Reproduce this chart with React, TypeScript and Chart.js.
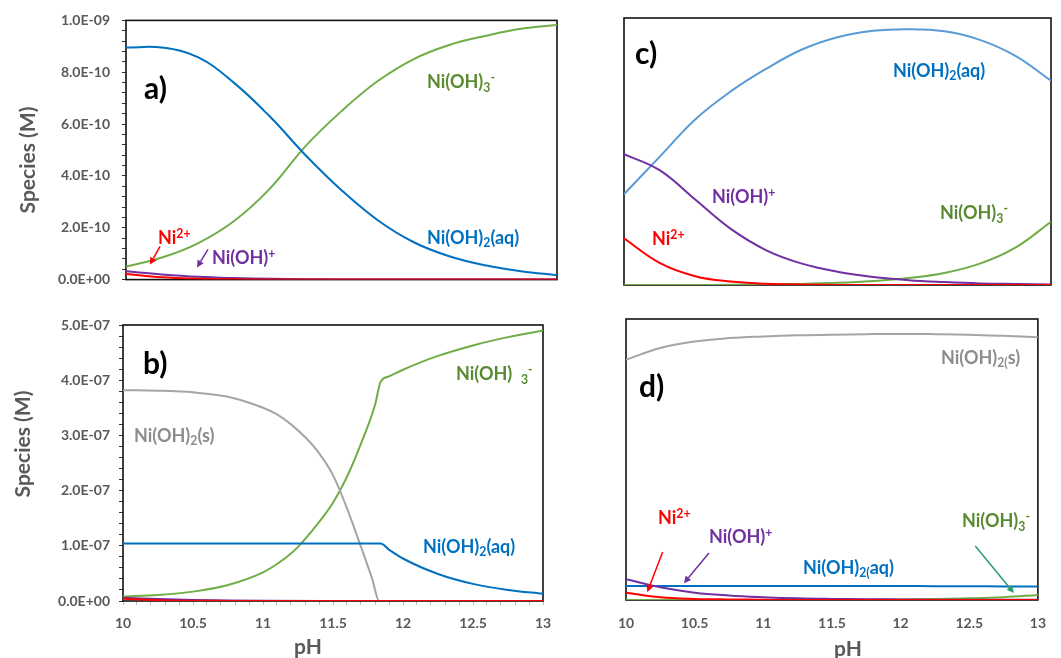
import React, { useEffect, useRef } from "react";
import { Chart, registerables } from "chart.js";

Chart.register(...registerables);

const FONT = "Lato, 'Open Sans', 'DejaVu Sans', sans-serif";
const AXIS_TEXT = "#595959";
const C_GREEN = "#70AD47";
const C_BLUE = "#0070C0";
const C_LIGHTBLUE = "#5B9BD5";
const C_GRAY = "#A5A5A5";
const C_RED = "#FF0000";
const C_PURPLE = "#7030A0";
const T_GREEN = "#588A30";
const T_GRAY = "#8C8C8C";
const T_ARROW_GREEN = "#2A9D6F";

// ---- tick labels ----
const PH_TICKS = [10, 10.5, 11, 11.5, 12, 12.5, 13];
const A_Y_TICKS = [0, 2e-10, 4e-10, 6e-10, 8e-10, 1e-9];
const B_Y_TICKS = [0, 1e-7, 2e-7, 3e-7, 4e-7, 5e-7];

// ---- panel a (M) ----
const A_PH = [10, 10.25, 10.5, 10.75, 11, 11.25, 11.5, 11.75, 12, 12.25, 12.5, 12.75, 13];
const A_OH3 = [0.5e-10, 0.85e-10, 1.4e-10, 2.25e-10, 3.5e-10, 5.15e-10, 6.5e-10, 7.65e-10, 8.5e-10, 9.05e-10, 9.4e-10, 9.68e-10, 9.82e-10];
const A_AQ = [8.95e-10, 8.95e-10, 8.58e-10, 7.6e-10, 6.3e-10, 4.8e-10, 3.45e-10, 2.3e-10, 1.45e-10, 0.9e-10, 0.55e-10, 0.32e-10, 0.17e-10];
const A_NI = [0.22e-10, 0.09e-10, 0.035e-10, 0.012e-10, 0.004e-10, 0.001e-10, 0, 0, 0, 0, 0, 0, 0];
const A_NIOH = [0.32e-10, 0.2e-10, 0.11e-10, 0.06e-10, 0.03e-10, 0.015e-10, 0.007e-10, 0.003e-10, 0.001e-10, 0, 0, 0, 0];

// ---- panel b (M) ----
const B_PH_OH3 = [10, 10.25, 10.5, 10.75, 11, 11.1, 11.2, 11.25, 11.3, 11.4, 11.5, 11.6, 11.7, 11.8, 11.84, 11.9, 12, 12.25, 12.5, 12.75, 13];
const B_OH3 = [0.08e-7, 0.11e-7, 0.17e-7, 0.29e-7, 0.52e-7, 0.67e-7, 0.86e-7, 0.98e-7, 1.12e-7, 1.43e-7, 1.78e-7, 2.25e-7, 2.85e-7, 3.55e-7, 3.97e-7, 4.07e-7, 4.19e-7, 4.44e-7, 4.63e-7, 4.78e-7, 4.9e-7];
const B_PH_S = [10, 10.25, 10.5, 10.75, 11, 11.1, 11.2, 11.3, 11.4, 11.5, 11.6, 11.7, 11.78, 11.83, 12, 12.5, 13];
const B_S = [3.82e-7, 3.81e-7, 3.78e-7, 3.7e-7, 3.5e-7, 3.38e-7, 3.2e-7, 2.97e-7, 2.68e-7, 2.28e-7, 1.68e-7, 0.98e-7, 0.4e-7, 0, 0, 0, 0];
const B_PH_AQ = [10, 10.5, 11, 11.5, 11.84, 11.9, 12, 12.25, 12.5, 12.75, 13];
const B_AQ = [1.04e-7, 1.04e-7, 1.04e-7, 1.04e-7, 1.04e-7, 0.93e-7, 0.77e-7, 0.49e-7, 0.31e-7, 0.2e-7, 0.13e-7];
const B_PH_MINOR = [10, 10.25, 10.5, 10.75, 11, 11.5, 12, 13];
const B_NI = [0.04e-7, 0.015e-7, 0.005e-7, 0.002e-7, 0, 0, 0, 0];
const B_NIOH = [0.06e-7, 0.035e-7, 0.02e-7, 0.01e-7, 0.005e-7, 0.001e-7, 0, 0];

// ---- panel c (relative) ----
const C_PH = [10, 10.25, 10.5, 10.75, 11, 11.25, 11.5, 11.75, 12, 12.25, 12.5, 12.75, 13];
const C_AQ = [0.34, 0.48, 0.62, 0.725, 0.81, 0.882, 0.928, 0.952, 0.958, 0.95, 0.918, 0.858, 0.765];
const C_NIOH = [0.49, 0.43, 0.32, 0.21, 0.13, 0.08, 0.05, 0.03, 0.018, 0.011, 0.006, 0.004, 0.002];
const C_NI = [0.175, 0.083, 0.033, 0.013, 0.005, 0.002, 0, 0, 0, 0, 0, 0, 0];
const C_OH3 = [0, 0, 0, 0.001, 0.002, 0.004, 0.008, 0.015, 0.026, 0.045, 0.08, 0.14, 0.237];

// ---- panel d (relative) ----
const D_PH = [10, 10.25, 10.5, 10.75, 11, 11.25, 11.5, 11.75, 12, 12.25, 12.5, 12.75, 13];
const D_S = [0.855, 0.897, 0.92, 0.932, 0.938, 0.942, 0.944, 0.946, 0.947, 0.946, 0.944, 0.94, 0.935];
const D_AQ = [0.05, 0.05, 0.05, 0.05, 0.05, 0.05, 0.05, 0.05, 0.05, 0.049, 0.049, 0.048, 0.048];
const D_NIOH = [0.074, 0.045, 0.026, 0.016, 0.01, 0.006, 0.004, 0.003, 0.002, 0.001, 0.001, 0.001, 0.001];
const D_NI = [0.026, 0.01, 0.004, 0.002, 0.001, 0, 0, 0, 0, 0, 0, 0, 0];
const D_OH3 = [0, 0, 0, 0, 0, 0, 0, 0.001, 0.002, 0.004, 0.006, 0.01, 0.018];

type Series = { label: string; color: string; ph: number[]; values: number[] };
type Arrow = { color: string; from: [number, number]; to: [number, number] };
type Box = { x: number; y: number; w: number; h: number };

function sci(v: number): string {
  if (Math.abs(v) < 1e-30) return "0.0E+00";
  const e = Math.floor(Math.log10(Math.abs(v)) + 1e-9);
  const m = v / Math.pow(10, e);
  const sign = e < 0 ? "-" : "+";
  return `${m.toFixed(1)}E${sign}${String(Math.abs(e)).padStart(2, "0")}`;
}

function phLabel(v: number): string {
  return String(Number(v.toFixed(1)));
}

function subdivide(major: number[], parts: number): number[] {
  const out: number[] = [];
  for (let i = 0; i < major.length - 1; i++) {
    for (let k = 0; k < parts; k++) {
      out.push(major[i] + ((major[i + 1] - major[i]) * k) / parts);
    }
  }
  out.push(major[major.length - 1]);
  return out;
}

const framePlugin = {
  id: "frame",
  beforeDatasetsDraw(chart: any) {
    const { ctx, chartArea } = chart;
    const { left, top, right, bottom } = chartArea;
    ctx.save();
    ctx.strokeStyle = "#111";
    ctx.lineWidth = 1.6;
    ctx.strokeRect(left, top, right - left, bottom - top);
    ctx.restore();
  },
};

function arrowPlugin(arrows: Arrow[]) {
  return {
    id: "arrows",
    afterDatasetsDraw(chart: any) {
      const { ctx, scales } = chart;
      ctx.save();
      for (const a of arrows) {
        const x1 = scales.x.getPixelForValue(a.from[0]);
        const y1 = scales.y.getPixelForValue(a.from[1]);
        const x2 = scales.x.getPixelForValue(a.to[0]);
        const y2 = scales.y.getPixelForValue(a.to[1]);
        const ang = Math.atan2(y2 - y1, x2 - x1);
        const hl = 7;
        const hw = 3.5;
        const bx = x2 - hl * Math.cos(ang);
        const by = y2 - hl * Math.sin(ang);
        ctx.strokeStyle = a.color;
        ctx.fillStyle = a.color;
        ctx.lineWidth = 1.5;
        ctx.beginPath();
        ctx.moveTo(x1, y1);
        ctx.lineTo(bx, by);
        ctx.stroke();
        ctx.beginPath();
        ctx.moveTo(x2, y2);
        ctx.lineTo(bx + hw * Math.sin(ang), by - hw * Math.cos(ang));
        ctx.lineTo(bx - hw * Math.sin(ang), by + hw * Math.cos(ang));
        ctx.closePath();
        ctx.fill();
      }
      ctx.restore();
    },
  };
}

type YCfg =
  | { show: false; max: number }
  | { show: true; major: number[]; width: number; padding: number };

type XCfg =
  | { show: false }
  | { show: true; minorParts: number; tickMarks: boolean; height: number; padding: number };

function buildY(cfg: YCfg): any {
  if (!cfg.show) return { type: "linear", display: false, min: 0, max: cfg.max };
  const values = subdivide(cfg.major, 5);
  const majors = cfg.major;
  return {
    type: "linear",
    position: "left",
    min: majors[0],
    max: majors[majors.length - 1],
    afterBuildTicks: (s: any) => {
      s.ticks = values.map((v) => ({ value: v }));
    },
    afterFit: (s: any) => {
      s.width = cfg.width;
    },
    ticks: {
      autoSkip: false,
      padding: cfg.padding,
      color: AXIS_TEXT,
      font: { family: FONT, size: 14, weight: "bold" },
      callback: (_v: any, i: number) => (i % 5 === 0 ? sci(values[i]) : ""),
    },
    grid: { drawOnChartArea: false, drawTicks: true, tickLength: 4, tickColor: "#333", lineWidth: 1 },
    border: { display: false },
  };
}

function buildX(cfg: XCfg): any {
  if (!cfg.show) return { type: "linear", display: false, min: 10, max: 13 };
  const values = subdivide(PH_TICKS, cfg.minorParts);
  return {
    type: "linear",
    position: "bottom",
    min: PH_TICKS[0],
    max: PH_TICKS[PH_TICKS.length - 1],
    afterBuildTicks: (s: any) => {
      s.ticks = values.map((v) => ({ value: v }));
    },
    afterFit: (s: any) => {
      s.height = cfg.height;
    },
    ticks: {
      autoSkip: false,
      maxRotation: 0,
      minRotation: 0,
      padding: cfg.padding,
      color: AXIS_TEXT,
      font: { family: FONT, size: 14, weight: "bold" },
      callback: (_v: any, i: number) => (i % cfg.minorParts === 0 ? phLabel(values[i]) : ""),
    },
    grid: cfg.tickMarks
      ? { drawOnChartArea: false, drawTicks: true, tickLength: 4, tickColor: "#BDBDBD", lineWidth: 1 }
      : { display: false, drawOnChartArea: false, drawTicks: false },
    border: { display: false },
  };
}

type PanelProps = {
  box: Box;
  padding: { left: number; top: number; right: number; bottom: number };
  x: XCfg;
  y: YCfg;
  series: Series[];
  arrows: Arrow[];
  monotone: boolean;
};

function Panel({ box, padding, x, y, series, arrows, monotone }: PanelProps) {
  const ref = useRef<HTMLCanvasElement | null>(null);
  useEffect(() => {
    if (!ref.current) return;
    const chart = new Chart(ref.current, {
      type: "line",
      data: {
        datasets: series.map((s) => ({
          label: s.label,
          data: s.ph.map((p, i) => ({ x: p, y: s.values[i] })),
          borderColor: s.color,
          backgroundColor: s.color,
          borderWidth: 2,
          pointRadius: 0,
          fill: false,
          cubicInterpolationMode: monotone ? "monotone" : "default",
          tension: 0.4,
        })),
      },
      options: {
        animation: false,
        responsive: false,
        events: [],
        layout: { padding, autoPadding: false } as any,
        plugins: { legend: { display: false }, tooltip: { enabled: false } },
        scales: { x: buildX(x), y: buildY(y) },
      } as any,
      plugins: [framePlugin, arrowPlugin(arrows)] as any,
    });
    return () => chart.destroy();
  }, []);
  return (
    <canvas
      ref={ref}
      width={box.w}
      height={box.h}
      style={{ position: "absolute", left: box.x, top: box.y, width: box.w, height: box.h }}
    />
  );
}

const Sub = ({ children }: { children: React.ReactNode }) => (
  <span style={{ fontSize: "0.68em", verticalAlign: "-0.28em" }}>{children}</span>
);
const Sup = ({ children }: { children: React.ReactNode }) => (
  <span style={{ fontSize: "0.68em", verticalAlign: "0.5em" }}>{children}</span>
);

function Label({ x, y, size, color, children }: { x: number; y: number; size: number; color: string; children: React.ReactNode }) {
  return (
    <div
      style={{
        position: "absolute",
        left: x,
        top: y - size * 0.6,
        fontSize: size,
        lineHeight: 1.2,
        color,
        fontWeight: 700,
        whiteSpace: "nowrap",
        fontFamily: FONT,
      }}
    >
      {children}
    </div>
  );
}

function YTitle({ cx, cy, text }: { cx: number; cy: number; text: string }) {
  return (
    <div
      style={{
        position: "absolute",
        left: cx,
        top: cy,
        transform: "translate(-50%, -50%) rotate(-90deg)",
        fontSize: 21,
        lineHeight: 1.2,
        color: AXIS_TEXT,
        fontWeight: 700,
        whiteSpace: "nowrap",
        fontFamily: FONT,
      }}
    >
      {text}
    </div>
  );
}

function XTitle({ cx, cy, text }: { cx: number; cy: number; text: string }) {
  return (
    <div
      style={{
        position: "absolute",
        left: cx,
        top: cy,
        transform: "translate(-50%, -50%)",
        fontSize: 21,
        lineHeight: 1.2,
        color: AXIS_TEXT,
        fontWeight: 700,
        whiteSpace: "nowrap",
        fontFamily: FONT,
      }}
    >
      {text}
    </div>
  );
}

const LS = 18; // species label size
const PS = 30; // panel letter size

export default function App() {
  return (
    <div
      style={{
        position: "absolute",
        left: 0,
        top: 0,
        width: 1061,
        height: 658,
        background: "#fff",
        overflow: "hidden",
        fontFamily: FONT,
      }}
    >
      {/* panel a */}
      <Panel
        box={{ x: 0, y: 0, w: 565, h: 300 }}
        padding={{ left: 0, top: 18, right: 8, bottom: 8 }}
        x={{ show: false }}
        y={{ show: true, major: A_Y_TICKS, width: 126, padding: 12 }}
        monotone={false}
        series={[
          { label: "Ni2+", color: C_RED, ph: A_PH, values: A_NI },
          { label: "Ni(OH)+", color: C_PURPLE, ph: A_PH, values: A_NIOH },
          { label: "Ni(OH)2(aq)", color: C_BLUE, ph: A_PH, values: A_AQ },
          { label: "Ni(OH)3-", color: C_GREEN, ph: A_PH, values: A_OH3 },
        ]}
        arrows={[
          { color: C_RED, from: [10.237, 1.28e-10], to: [10.167, 0.58e-10] },
          { color: C_PURPLE, from: [10.571, 1.17e-10], to: [10.494, 0.47e-10] },
        ]}
      />
      {/* panel b */}
      <Panel
        box={{ x: 0, y: 305, w: 565, h: 353 }}
        padding={{ left: 0, top: 20, right: 22, bottom: 0 }}
        x={{ show: true, minorParts: 5, tickMarks: true, height: 57, padding: 10 }}
        y={{ show: true, major: B_Y_TICKS, width: 123, padding: 9 }}
        monotone={true}
        series={[
          { label: "Ni2+", color: C_RED, ph: B_PH_MINOR, values: B_NI },
          { label: "Ni(OH)+", color: C_PURPLE, ph: B_PH_MINOR, values: B_NIOH },
          { label: "Ni(OH)2(aq)", color: C_BLUE, ph: B_PH_AQ, values: B_AQ },
          { label: "Ni(OH)2(s)", color: C_GRAY, ph: B_PH_S, values: B_S },
          { label: "Ni(OH)3-", color: C_GREEN, ph: B_PH_OH3, values: B_OH3 },
        ]}
        arrows={[]}
      />
      {/* panel c */}
      <Panel
        box={{ x: 600, y: 0, w: 461, h: 300 }}
        padding={{ left: 24, top: 18, right: 10, bottom: 15 }}
        x={{ show: false }}
        y={{ show: false, max: 1 }}
        monotone={false}
        series={[
          { label: "Ni2+", color: C_RED, ph: C_PH, values: C_NI },
          { label: "Ni(OH)+", color: C_PURPLE, ph: C_PH, values: C_NIOH },
          { label: "Ni(OH)2(aq)", color: C_LIGHTBLUE, ph: C_PH, values: C_AQ },
          { label: "Ni(OH)3-", color: C_GREEN, ph: C_PH, values: C_OH3 },
        ]}
        arrows={[]}
      />
      {/* panel d */}
      <Panel
        box={{ x: 600, y: 305, w: 461, h: 353 }}
        padding={{ left: 26, top: 14, right: 8, bottom: 0 }}
        x={{ show: true, minorParts: 1, tickMarks: false, height: 58, padding: 15 }}
        y={{ show: false, max: 1 }}
        monotone={false}
        series={[
          { label: "Ni2+", color: C_RED, ph: D_PH, values: D_NI },
          { label: "Ni(OH)+", color: C_PURPLE, ph: D_PH, values: D_NIOH },
          { label: "Ni(OH)2(aq)", color: C_BLUE, ph: D_PH, values: D_AQ },
          { label: "Ni(OH)2(s)", color: C_GRAY, ph: D_PH, values: D_S },
          { label: "Ni(OH)3-", color: C_GREEN, ph: D_PH, values: D_OH3 },
        ]}
        arrows={[
          { color: C_RED, from: [10.267, 0.171], to: [10.155, 0.028] },
          { color: C_PURPLE, from: [10.604, 0.167], to: [10.422, 0.06] },
          { color: T_ARROW_GREEN, from: [12.544, 0.192], to: [12.825, 0.025] },
        ]}
      />

      {/* axis titles */}
      <YTitle cx={27} cy={160} text="Species (M)" />
      <YTitle cx={22} cy={444} text="Species (M)" />
      <XTitle cx={308} cy={646} text="pH" />
      <XTitle cx={848} cy={648} text="pH" />

      {/* panel a labels */}
      <Label x={144} y={87} size={PS} color="#000">a)</Label>
      <Label x={427} y={82} size={LS} color={T_GREEN}>
        Ni(OH)<Sub>3</Sub><Sup>-</Sup>
      </Label>
      <Label x={427} y={238} size={LS} color={C_BLUE}>
        Ni(OH)<Sub>2</Sub>(aq)
      </Label>
      <Label x={158} y={238} size={LS} color={C_RED}>
        Ni<Sup>2+</Sup>
      </Label>
      <Label x={212} y={258} size={LS} color={C_PURPLE}>
        Ni(OH)<Sup>+</Sup>
      </Label>

      {/* panel b labels */}
      <Label x={143} y={362} size={PS} color="#000">b)</Label>
      <Label x={456} y={374} size={LS} color={T_GREEN}>
        Ni(OH)&nbsp;&nbsp;<Sub>3</Sub><Sup>-</Sup>
      </Label>
      <Label x={134} y={436} size={LS} color={T_GRAY}>
        Ni(OH)<Sub>2</Sub>(s)
      </Label>
      <Label x={423} y={547} size={LS} color={C_BLUE}>
        Ni(OH)<Sub>2</Sub>(aq)
      </Label>

      {/* panel c labels */}
      <Label x={635} y={52} size={PS} color="#000">c)</Label>
      <Label x={893} y={71} size={LS} color={C_BLUE}>
        Ni(OH)<Sub>2</Sub>(aq)
      </Label>
      <Label x={712} y={197} size={LS} color={C_PURPLE}>
        Ni(OH)<Sup>+</Sup>
      </Label>
      <Label x={940} y={213} size={LS} color={T_GREEN}>
        Ni(OH)<Sub>3</Sub><Sup>-</Sup>
      </Label>
      <Label x={652} y={239} size={LS} color={C_RED}>
        Ni<Sup>2+</Sup>
      </Label>

      {/* panel d labels */}
      <Label x={639} y={385} size={PS} color="#000">d)</Label>
      <Label x={941} y={358} size={LS} color={T_GRAY}>
        Ni(OH)<Sub>2(</Sub>s)
      </Label>
      <Label x={658} y={518} size={LS} color={C_RED}>
        Ni<Sup>2+</Sup>
      </Label>
      <Label x={709} y={537} size={LS} color={C_PURPLE}>
        Ni(OH)<Sup>+</Sup>
      </Label>
      <Label x={803} y={568} size={LS} color={C_BLUE}>
        Ni(OH)<Sub>2(</Sub>aq)
      </Label>
      <Label x={962} y={521} size={LS} color={T_GREEN}>
        Ni(OH)<Sub>3</Sub><Sup>-</Sup>
      </Label>
    </div>
  );
}
